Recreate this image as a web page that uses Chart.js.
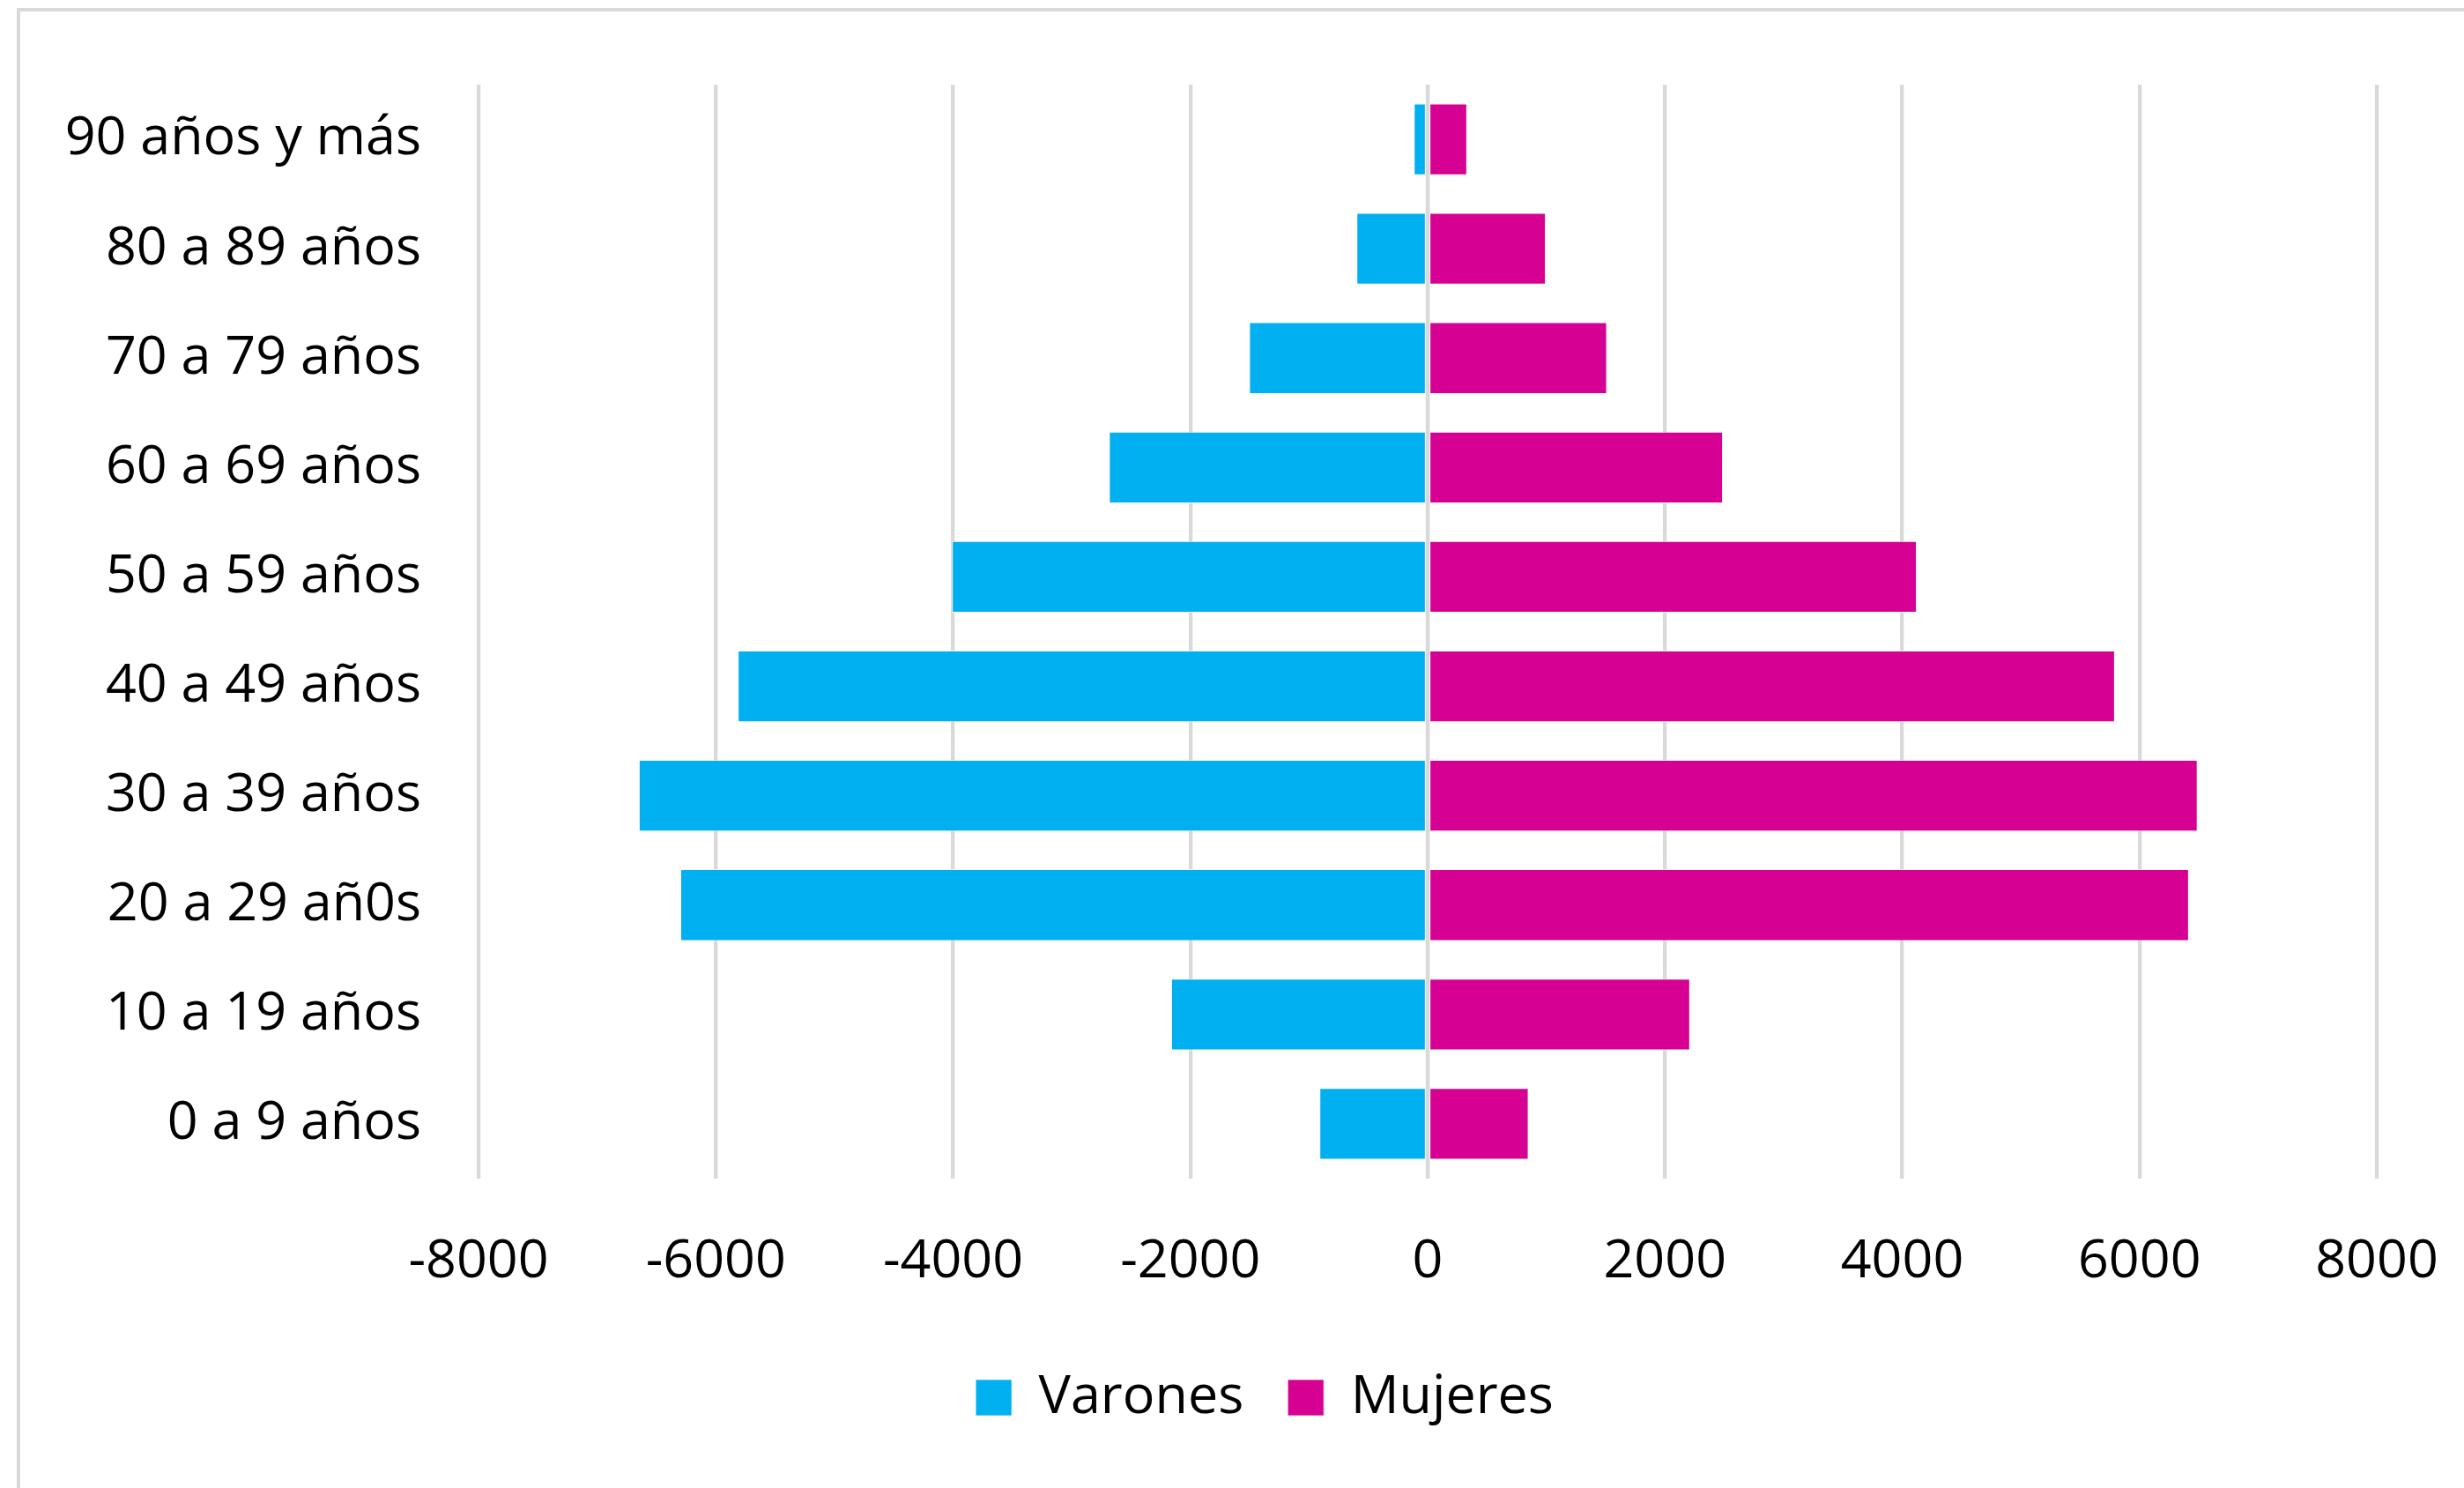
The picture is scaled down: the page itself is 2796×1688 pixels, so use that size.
<!DOCTYPE html>
<html>
<head>
<meta charset="utf-8">
<script src="https://cdn.jsdelivr.net/npm/chart.js@4.4.1/dist/chart.umd.min.js"></script>
<style>
  html, body { margin: 0; padding: 0; background: #fff; overflow: hidden; }
  #frame { position: absolute; left: 19px; top: 9px; width: 2900px; height: 1800px; border: 4px solid #d9d9d9; }
  #chart { position: absolute; left: 0; top: 0; }
</style>
</head>
<body>
<div id="frame"></div>
<canvas id="chart" width="2796" height="1688"></canvas>
<script>
// grupos de edad (de arriba hacia abajo, como en la pirámide)
const ageGroups = ['90 años y más', '80 a 89 años', '70 a 79 años', '60 a 69 años', '50 a 59 años',
                   '40 a 49 años', '30 a 39 años', '20 a 29 añ0s', '10 a 19 años', '0 a 9 años'];
const varones = [-117, -600, -1505, -2686, -4010, -5815, -6649, -6299, -2162, -912];
const mujeres = [333, 996, 1512, 2489, 4123, 5793, 6490, 6417, 2212, 851];
const xTicks = [-8000, -6000, -4000, -2000, 0, 2000, 4000, 6000, 8000];

const font = { family: "'Open Sans', sans-serif", size: 61 };
const gridColor = '#d9d9d9';

// la linea del cero va por encima de las barras
const zeroLine = {
    id: 'zeroLine',
    afterDatasetsDraw(chart) {
        const x = chart.scales.x.getPixelForValue(0);
        const { top, bottom } = chart.chartArea;
        const ctx = chart.ctx;
        ctx.save();
        ctx.strokeStyle = gridColor;
        ctx.lineWidth = 4.5;
        ctx.beginPath();
        ctx.moveTo(x, top);
        ctx.lineTo(x, bottom);
        ctx.stroke();
        ctx.restore();
    }
};

// centra la leyenda como en Excel (un poco a la derecha del centro del lienzo)
const legendShift = {
    id: 'legendShift',
    afterLayout(chart) {
        chart.legend.left = 173;
    }
};

function noPad(scale) {
    scale.paddingLeft = 0;
    scale.paddingRight = 0;
    scale.paddingTop = 0;
    scale.paddingBottom = 0;
}

const ctx = document.getElementById('chart').getContext('2d');
new Chart(ctx, {
    type: 'bar',
    data: {
        labels: ageGroups,
        datasets: [
            {
                label: 'Varones',
                data: varones,
                backgroundColor: '#00B0F0',
                borderColor: 'rgba(255,255,255,0.7)',
                borderWidth: 1,
                borderSkipped: false,
                categoryPercentage: 1,
                barPercentage: 0.655
            },
            {
                label: 'Mujeres',
                data: mujeres,
                backgroundColor: '#D60093',
                borderColor: 'rgba(255,255,255,0.7)',
                borderWidth: 1,
                borderSkipped: false,
                categoryPercentage: 1,
                barPercentage: 0.655
            }
        ]
    },
    options: {
        indexAxis: 'y',
        responsive: false,
        animation: false,
        devicePixelRatio: 1,
        layout: { padding: { left: 0, right: 99, top: 96, bottom: 62 } },
        scales: {
            x: {
                stacked: true,
                min: -8000,
                max: 8000,
                afterBuildTicks(scale) {
                    scale.ticks = xTicks.map(v => ({ value: v }));
                },
                afterFit(scale) { scale.height = 168; noPad(scale); },
                grid: { color: gridColor, lineWidth: 4.3, drawTicks: false },
                border: { display: false },
                ticks: {
                    font: font,
                    color: '#000',
                    padding: 58,
                    maxRotation: 0,
                    callback: v => String(v)
                }
            },
            y: {
                stacked: true,
                afterFit(scale) { scale.width = 543; noPad(scale); },
                grid: { display: false },
                border: { display: false },
                ticks: { font: font, color: '#000', padding: 57 }
            }
        },
        plugins: {
            legend: {
                position: 'bottom',
                labels: {
                    font: font,
                    color: '#000',
                    boxWidth: 41,
                    boxHeight: 41,
                    padding: 50
                }
            },
            tooltip: { enabled: false }
        }
    },
    plugins: [zeroLine, legendShift]
});
</script>
</body>
</html>
